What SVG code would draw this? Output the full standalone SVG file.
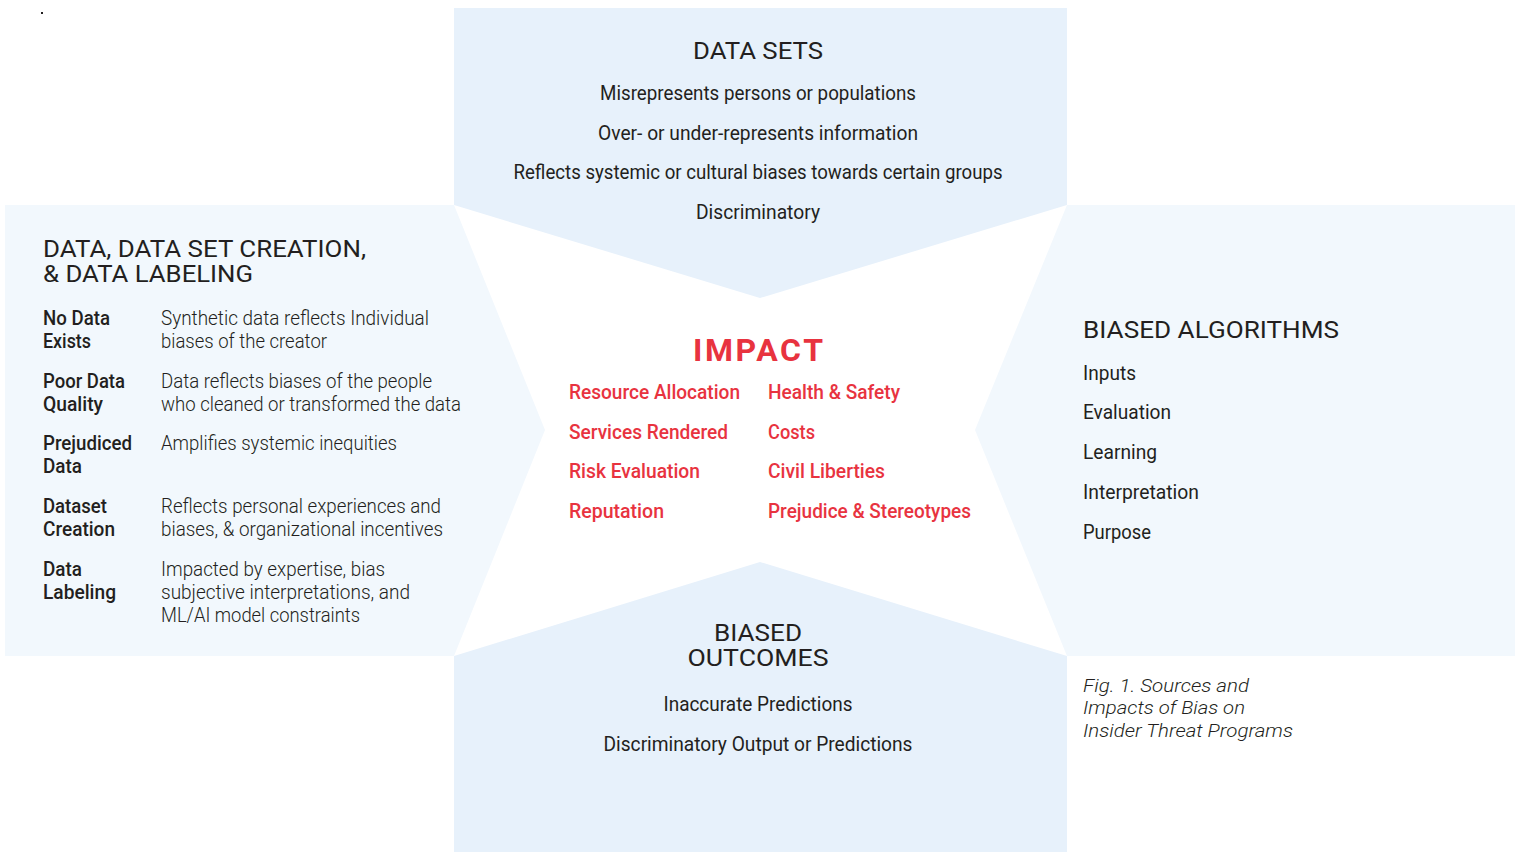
<svg xmlns="http://www.w3.org/2000/svg" width="1519" height="852" viewBox="0 0 1519 852">
<style>
.bg{fill:#ffffff}
.pa{fill:#e7f1fb}
.pb{fill:#f2f8fd}
text{font-family:Roboto,"Liberation Sans",sans-serif;fill:#231f20}
.h{font-size:24px;font-weight:400}
.b{font-size:21px;font-weight:400}
.l{font-size:21px;font-weight:300}
.m{font-size:21px;font-weight:500}
.r{font-size:21px;font-weight:500;fill:#e8333f}
.imp{font-size:32px;font-weight:700;fill:#e8333f}
.cap{font-size:19px;font-weight:300;font-style:italic}
.c{text-anchor:middle}
</style>
<rect class="bg" x="0" y="0" width="1519" height="852"/>
<rect x="41" y="12" width="2" height="2" fill="#231f20"/>
<g id="node-datasets">
<polygon class="pa" points="454,8 1067,8 1067,205 760,298 454,205"/>
<text class="h c" x="758" y="59" textLength="130" lengthAdjust="spacingAndGlyphs">DATA SETS</text>
<text class="b c" x="758" y="100" textLength="316" lengthAdjust="spacingAndGlyphs">Misrepresents persons or populations</text>
<text class="b c" x="758" y="140" textLength="320" lengthAdjust="spacingAndGlyphs">Over- or under-represents information</text>
<text class="b c" x="758" y="179" textLength="489" lengthAdjust="spacingAndGlyphs">Reflects systemic or cultural biases towards certain groups</text>
<text class="b c" x="758" y="219" textLength="124" lengthAdjust="spacingAndGlyphs">Discriminatory</text>
</g>
<g id="node-data-creation-labeling">
<polygon class="pb" points="5,205 454,205 545,430 454,656 5,656"/>
<text class="h" x="43" y="257" textLength="323" lengthAdjust="spacingAndGlyphs">DATA, DATA SET CREATION,</text>
<text class="h" x="43" y="282" textLength="210" lengthAdjust="spacingAndGlyphs">&amp; DATA LABELING</text>
<text class="m" x="43" y="325" textLength="67" lengthAdjust="spacingAndGlyphs">No Data</text>
<text class="m" x="43" y="348" textLength="48" lengthAdjust="spacingAndGlyphs">Exists</text>
<text class="m" x="43" y="388" textLength="82" lengthAdjust="spacingAndGlyphs">Poor Data</text>
<text class="m" x="43" y="411" textLength="60" lengthAdjust="spacingAndGlyphs">Quality</text>
<text class="m" x="43" y="450" textLength="89" lengthAdjust="spacingAndGlyphs">Prejudiced</text>
<text class="m" x="43" y="473" textLength="39" lengthAdjust="spacingAndGlyphs">Data</text>
<text class="m" x="43" y="513" textLength="64" lengthAdjust="spacingAndGlyphs">Dataset</text>
<text class="m" x="43" y="536" textLength="72" lengthAdjust="spacingAndGlyphs">Creation</text>
<text class="m" x="43" y="576" textLength="39" lengthAdjust="spacingAndGlyphs">Data</text>
<text class="m" x="43" y="599" textLength="73" lengthAdjust="spacingAndGlyphs">Labeling</text>
<text class="l" x="161" y="325" textLength="268" lengthAdjust="spacingAndGlyphs">Synthetic data reflects Individual</text>
<text class="l" x="161" y="348" textLength="166" lengthAdjust="spacingAndGlyphs">biases of the creator</text>
<text class="l" x="161" y="388" textLength="271" lengthAdjust="spacingAndGlyphs">Data reflects biases of the people</text>
<text class="l" x="161" y="411" textLength="300" lengthAdjust="spacingAndGlyphs">who cleaned or transformed the data</text>
<text class="l" x="161" y="450" textLength="236" lengthAdjust="spacingAndGlyphs">Amplifies systemic inequities</text>
<text class="l" x="161" y="513" textLength="280" lengthAdjust="spacingAndGlyphs">Reflects personal experiences and</text>
<text class="l" x="161" y="536" textLength="282" lengthAdjust="spacingAndGlyphs">biases, &amp; organizational incentives</text>
<text class="l" x="161" y="576" textLength="224" lengthAdjust="spacingAndGlyphs">Impacted by expertise, bias</text>
<text class="l" x="161" y="599" textLength="249" lengthAdjust="spacingAndGlyphs">subjective interpretations, and</text>
<text class="l" x="161" y="622" textLength="199" lengthAdjust="spacingAndGlyphs">ML/AI model constraints</text>
</g>
<g id="node-biased-algorithms">
<polygon class="pb" points="1067,205 1515,205 1515,656 1067,656 975,430"/>
<text class="h" x="1083" y="338" textLength="256" lengthAdjust="spacingAndGlyphs">BIASED ALGORITHMS</text>
<text class="b" x="1083" y="380" textLength="53" lengthAdjust="spacingAndGlyphs">Inputs</text>
<text class="b" x="1083" y="419" textLength="88" lengthAdjust="spacingAndGlyphs">Evaluation</text>
<text class="b" x="1083" y="459" textLength="74" lengthAdjust="spacingAndGlyphs">Learning</text>
<text class="b" x="1083" y="499" textLength="116" lengthAdjust="spacingAndGlyphs">Interpretation</text>
<text class="b" x="1083" y="539" textLength="68" lengthAdjust="spacingAndGlyphs">Purpose</text>
</g>
<g id="node-biased-outcomes">
<polygon class="pa" points="454,656 760,562 1067,656 1067,852 454,852"/>
<text class="h c" x="758" y="641" textLength="88" lengthAdjust="spacingAndGlyphs">BIASED</text>
<text class="h c" x="758" y="666" textLength="141" lengthAdjust="spacingAndGlyphs">OUTCOMES</text>
<text class="b c" x="758" y="711" textLength="189" lengthAdjust="spacingAndGlyphs">Inaccurate Predictions</text>
<text class="b c" x="758" y="751" textLength="309" lengthAdjust="spacingAndGlyphs">Discriminatory Output or Predictions</text>
</g>
<g id="node-impact">
<text class="imp c" x="758" y="361" textLength="130" lengthAdjust="spacing">IMPACT</text>
<text class="r" x="569" y="399" textLength="171" lengthAdjust="spacingAndGlyphs">Resource Allocation</text>
<text class="r" x="569" y="439" textLength="159" lengthAdjust="spacingAndGlyphs">Services Rendered</text>
<text class="r" x="569" y="478" textLength="131" lengthAdjust="spacingAndGlyphs">Risk Evaluation</text>
<text class="r" x="569" y="518" textLength="95" lengthAdjust="spacingAndGlyphs">Reputation</text>
<text class="r" x="768" y="399" textLength="132" lengthAdjust="spacingAndGlyphs">Health &amp; Safety</text>
<text class="r" x="768" y="439" textLength="47" lengthAdjust="spacingAndGlyphs">Costs</text>
<text class="r" x="768" y="478" textLength="117" lengthAdjust="spacingAndGlyphs">Civil Liberties</text>
<text class="r" x="768" y="518" textLength="203" lengthAdjust="spacingAndGlyphs">Prejudice &amp; Stereotypes</text>
</g>
<g id="connectors"></g>
<g id="caption">
<text class="cap" x="1083" y="692" textLength="166" lengthAdjust="spacingAndGlyphs">Fig. 1. Sources and</text>
<text class="cap" x="1083" y="714" textLength="162" lengthAdjust="spacingAndGlyphs">Impacts of Bias on</text>
<text class="cap" x="1083" y="737" textLength="210" lengthAdjust="spacingAndGlyphs">Insider Threat Programs</text>
</g>
</svg>
